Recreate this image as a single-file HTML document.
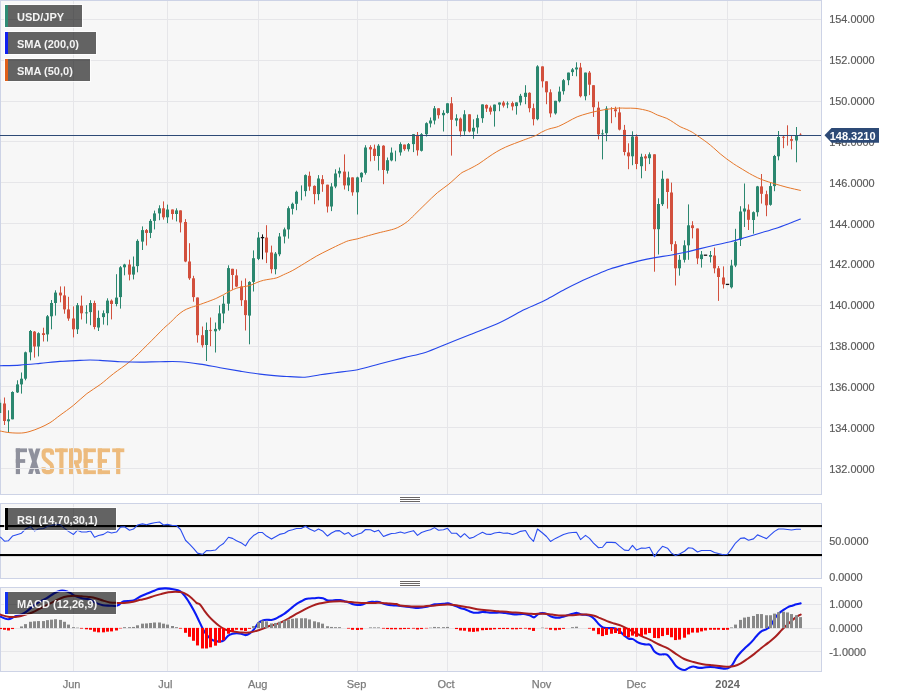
<!DOCTYPE html><html><head><meta charset="utf-8"><title>USD/JPY</title>
<style>html,body{margin:0;padding:0;background:#fff}svg{display:block;will-change:transform}text{font-family:"Liberation Sans",sans-serif}</style></head><body>
<svg width="898" height="697" viewBox="0 0 898 697">
<rect width="898" height="697" fill="#fff"/>
<rect x="0.5" y="0.5" width="821" height="494" fill="#f7f7f7" stroke="#cdd3e6" stroke-width="1"/>
<rect x="0.5" y="503.5" width="821" height="75" fill="#f7f7f7" stroke="#cdd3e6" stroke-width="1"/>
<rect x="0.5" y="587.5" width="821" height="84" fill="#f7f7f7" stroke="#cdd3e6" stroke-width="1"/>
<g id="logo"><g fill="#8f919d"><rect x="15.8" y="448.4" width="4.2" height="25.7"/><rect x="15.8" y="448.4" width="11.2" height="3.8"/><rect x="15.8" y="459.1" width="9.4" height="3.8"/><polygon points="28.1,448.4 32.5,448.4 40.4,474.1 36,474.1"/><polygon points="36,448.4 40.4,448.4 32.5,474.1 28.1,474.1"/></g><g fill="#edbb7d"><path d="M52.1 454.8 V453.4 Q52.1 450.4 49.1 450.4 H46.6 Q43.6 450.4 43.6 453.4 V455.8 Q43.6 457.8 45.1 459.1 L50.6 463.9 Q52.1 465.2 52.1 467.2 V469.1 Q52.1 472.1 49.1 472.1 H46.6 Q43.6 472.1 43.6 469.1 V467.2" fill="none" stroke="#edbb7d" stroke-width="4.1"/><rect x="55" y="448.4" width="12.8" height="3.8"/><rect x="59.3" y="448.4" width="4.2" height="25.7"/><rect x="69" y="448.4" width="4" height="25.7"/><path d="M71 450.3 H77 Q79.9 450.3 79.9 453.2 V459.2 Q79.9 462.1 77 462.1 H71" fill="none" stroke="#edbb7d" stroke-width="3.9"/><polygon points="74.3,463.5 78.6,463.5 81.9,474.1 77.6,474.1"/><rect x="83.6" y="448.4" width="4.2" height="25.7"/><rect x="83.6" y="448.4" width="12.3" height="3.8"/><rect x="83.6" y="459.1" width="9.4" height="3.8"/><rect x="83.6" y="470.3" width="12.3" height="3.8"/><rect x="97.8" y="448.4" width="4.2" height="25.7"/><rect x="97.8" y="448.4" width="12.2" height="3.8"/><rect x="97.8" y="459.1" width="9.2" height="3.8"/><rect x="97.8" y="470.3" width="12.2" height="3.8"/><rect x="112.2" y="448.4" width="12.1" height="3.8"/><rect x="116.1" y="448.4" width="4.2" height="25.7"/></g></g>

<g stroke="#e6e6e9" stroke-width="1" shape-rendering="crispEdges">
<line x1="1" x2="821" y1="19.5" y2="19.5"/>
<line x1="1" x2="821" y1="60.5" y2="60.5"/>
<line x1="1" x2="821" y1="101.5" y2="101.5"/>
<line x1="1" x2="821" y1="141.5" y2="141.5"/>
<line x1="1" x2="821" y1="182.5" y2="182.5"/>
<line x1="1" x2="821" y1="223.5" y2="223.5"/>
<line x1="1" x2="821" y1="264.5" y2="264.5"/>
<line x1="1" x2="821" y1="305.5" y2="305.5"/>
<line x1="1" x2="821" y1="346.5" y2="346.5"/>
<line x1="1" x2="821" y1="386.5" y2="386.5"/>
<line x1="1" x2="821" y1="427.5" y2="427.5"/>
<line x1="1" x2="821" y1="468.5" y2="468.5"/>
<line x1="1" x2="821" y1="541.5" y2="541.5"/>
<line x1="1" x2="821" y1="604.5" y2="604.5"/>
<line x1="1" x2="821" y1="628.5" y2="628.5"/>
<line x1="1" x2="821" y1="651.5" y2="651.5"/>
<line x1="73.5" x2="73.5" y1="1" y2="494"/>
<line x1="73.5" x2="73.5" y1="504" y2="578"/>
<line x1="73.5" x2="73.5" y1="588" y2="671"/>
<line x1="167.5" x2="167.5" y1="1" y2="494"/>
<line x1="167.5" x2="167.5" y1="504" y2="578"/>
<line x1="167.5" x2="167.5" y1="588" y2="671"/>
<line x1="258.5" x2="258.5" y1="1" y2="494"/>
<line x1="258.5" x2="258.5" y1="504" y2="578"/>
<line x1="258.5" x2="258.5" y1="588" y2="671"/>
<line x1="357.5" x2="357.5" y1="1" y2="494"/>
<line x1="357.5" x2="357.5" y1="504" y2="578"/>
<line x1="357.5" x2="357.5" y1="588" y2="671"/>
<line x1="447.5" x2="447.5" y1="1" y2="494"/>
<line x1="447.5" x2="447.5" y1="504" y2="578"/>
<line x1="447.5" x2="447.5" y1="588" y2="671"/>
<line x1="542.5" x2="542.5" y1="1" y2="494"/>
<line x1="542.5" x2="542.5" y1="504" y2="578"/>
<line x1="542.5" x2="542.5" y1="588" y2="671"/>
<line x1="636.5" x2="636.5" y1="1" y2="494"/>
<line x1="636.5" x2="636.5" y1="504" y2="578"/>
<line x1="636.5" x2="636.5" y1="588" y2="671"/>
<line x1="727.5" x2="727.5" y1="1" y2="494"/>
<line x1="727.5" x2="727.5" y1="504" y2="578"/>
<line x1="727.5" x2="727.5" y1="588" y2="671"/>
</g>
<g>
<rect x="-0.8" y="399.5" width="1" height="13.5" fill="#2b876f"/>
<rect x="-1.8" y="402.8" width="3" height="10.2" fill="#2b876f"/>
<rect x="4" y="397.5" width="1" height="27.5" fill="#d2503d"/>
<rect x="3" y="403.5" width="3" height="17.5" fill="#d2503d"/>
<rect x="8" y="410.3" width="1" height="21.7" fill="#2b876f"/>
<rect x="7" y="419.3" width="3" height="2" fill="#2b876f"/>
<rect x="12" y="391.3" width="1" height="28" fill="#2b876f"/>
<rect x="11" y="392" width="3" height="27.3" fill="#2b876f"/>
<rect x="17" y="380.3" width="1" height="12.7" fill="#2b876f"/>
<rect x="16" y="384.4" width="3" height="8" fill="#2b876f"/>
<rect x="21" y="372.5" width="1" height="21.1" fill="#2b876f"/>
<rect x="20" y="378.7" width="3" height="5.7" fill="#2b876f"/>
<rect x="25" y="351.6" width="1" height="28.7" fill="#2b876f"/>
<rect x="24" y="352.3" width="3" height="26.4" fill="#2b876f"/>
<rect x="30" y="330" width="1" height="30.3" fill="#2b876f"/>
<rect x="29" y="331" width="3" height="21.3" fill="#2b876f"/>
<rect x="34" y="331" width="1" height="26.6" fill="#d2503d"/>
<rect x="33" y="331.6" width="3" height="14.9" fill="#d2503d"/>
<rect x="38" y="332.3" width="1" height="24.1" fill="#2b876f"/>
<rect x="37" y="333.2" width="3" height="13.3" fill="#2b876f"/>
<rect x="43" y="327.7" width="1" height="13.8" fill="#d2503d"/>
<rect x="42" y="333.2" width="3" height="1.8" fill="#d2503d"/>
<rect x="47" y="315" width="1" height="26.5" fill="#2b876f"/>
<rect x="46" y="316.3" width="3" height="18.1" fill="#2b876f"/>
<rect x="51" y="300" width="1" height="29.3" fill="#2b876f"/>
<rect x="50" y="303" width="3" height="13.3" fill="#2b876f"/>
<rect x="55" y="290.3" width="1" height="25.3" fill="#2b876f"/>
<rect x="54" y="292.6" width="3" height="10.4" fill="#2b876f"/>
<rect x="60" y="286.4" width="1" height="15.9" fill="#d2503d"/>
<rect x="59" y="292.6" width="3" height="2.8" fill="#d2503d"/>
<rect x="64" y="286.4" width="1" height="27.3" fill="#d2503d"/>
<rect x="63" y="295.4" width="3" height="14" fill="#d2503d"/>
<rect x="68" y="296.8" width="1" height="24" fill="#d2503d"/>
<rect x="67" y="309.4" width="3" height="9.1" fill="#d2503d"/>
<rect x="73" y="306.4" width="1" height="31" fill="#d2503d"/>
<rect x="72" y="318.5" width="3" height="10.8" fill="#d2503d"/>
<rect x="77" y="303" width="1" height="31" fill="#2b876f"/>
<rect x="76" y="305.2" width="3" height="24.1" fill="#2b876f"/>
<rect x="81" y="295.6" width="1" height="23.9" fill="#d2503d"/>
<rect x="80" y="305.7" width="3" height="7.6" fill="#d2503d"/>
<rect x="86" y="305.2" width="1" height="18.4" fill="#2b876f"/>
<rect x="85" y="312.2" width="3" height="1.2" fill="#2b876f" opacity="0.75"/>
<rect x="90" y="300.2" width="1" height="25" fill="#2b876f"/>
<rect x="89" y="303" width="3" height="9.1" fill="#2b876f"/>
<rect x="94" y="300.7" width="1" height="28.6" fill="#d2503d"/>
<rect x="93" y="303" width="3" height="24" fill="#d2503d"/>
<rect x="98" y="310.5" width="1" height="20.5" fill="#2b876f"/>
<rect x="97" y="317.9" width="3" height="9.6" fill="#2b876f"/>
<rect x="103" y="310.4" width="1" height="14.2" fill="#2b876f"/>
<rect x="102" y="313.2" width="3" height="3.9" fill="#2b876f"/>
<rect x="107" y="298.3" width="1" height="27" fill="#2b876f"/>
<rect x="106" y="300.6" width="3" height="12.6" fill="#2b876f"/>
<rect x="111" y="299.4" width="1" height="20" fill="#d2503d"/>
<rect x="110" y="300.6" width="3" height="3.4" fill="#d2503d"/>
<rect x="116" y="274.2" width="1" height="32.1" fill="#2b876f"/>
<rect x="115" y="297.6" width="3" height="6.4" fill="#2b876f"/>
<rect x="120" y="266.1" width="1" height="42.5" fill="#2b876f"/>
<rect x="119" y="267.3" width="3" height="29.8" fill="#2b876f"/>
<rect x="124" y="263.8" width="1" height="11.5" fill="#2b876f"/>
<rect x="123" y="264.5" width="3" height="2.8" fill="#2b876f"/>
<rect x="129" y="259.7" width="1" height="20.7" fill="#d2503d"/>
<rect x="128" y="264.5" width="3" height="10.1" fill="#d2503d"/>
<rect x="133" y="256.5" width="1" height="22.9" fill="#2b876f"/>
<rect x="132" y="266.6" width="3" height="8" fill="#2b876f"/>
<rect x="137" y="239.3" width="1" height="33" fill="#2b876f"/>
<rect x="136" y="240.9" width="3" height="25.2" fill="#2b876f"/>
<rect x="142" y="226.4" width="1" height="23.6" fill="#2b876f"/>
<rect x="141" y="230.1" width="3" height="11.5" fill="#2b876f"/>
<rect x="146" y="229" width="1" height="16.5" fill="#d2503d"/>
<rect x="145" y="230.1" width="3" height="2.8" fill="#d2503d"/>
<rect x="150" y="219.1" width="1" height="19" fill="#2b876f"/>
<rect x="149" y="220.9" width="3" height="12" fill="#2b876f"/>
<rect x="154" y="210.6" width="1" height="18.8" fill="#2b876f"/>
<rect x="153" y="213.4" width="3" height="7.5" fill="#2b876f"/>
<rect x="159" y="205.3" width="1" height="14.9" fill="#2b876f"/>
<rect x="158" y="208.3" width="3" height="5.1" fill="#2b876f"/>
<rect x="163" y="201.4" width="1" height="18.2" fill="#d2503d"/>
<rect x="162" y="208.3" width="3" height="9" fill="#d2503d"/>
<rect x="167" y="204.6" width="1" height="18.6" fill="#2b876f"/>
<rect x="166" y="209.5" width="3" height="7.8" fill="#2b876f"/>
<rect x="172" y="209.5" width="1" height="10.1" fill="#d2503d"/>
<rect x="171" y="209.5" width="3" height="4.5" fill="#d2503d"/>
<rect x="176" y="208.3" width="1" height="13.1" fill="#2b876f"/>
<rect x="175" y="210.4" width="3" height="3.6" fill="#2b876f"/>
<rect x="180" y="210.4" width="1" height="22" fill="#d2503d"/>
<rect x="179" y="210.4" width="3" height="12.1" fill="#d2503d"/>
<rect x="185" y="219.1" width="1" height="43.1" fill="#d2503d"/>
<rect x="184" y="222" width="3" height="39.5" fill="#d2503d"/>
<rect x="189" y="243.2" width="1" height="36.7" fill="#d2503d"/>
<rect x="188" y="261.5" width="3" height="16.8" fill="#d2503d"/>
<rect x="193" y="275.8" width="1" height="25.9" fill="#d2503d"/>
<rect x="192" y="278.3" width="3" height="18.8" fill="#d2503d"/>
<rect x="197" y="297.5" width="1" height="45.1" fill="#d2503d"/>
<rect x="196" y="297.5" width="3" height="37.7" fill="#d2503d"/>
<rect x="202" y="326.5" width="1" height="21" fill="#d2503d"/>
<rect x="201" y="335.2" width="3" height="10" fill="#d2503d"/>
<rect x="206" y="322.5" width="1" height="38.5" fill="#2b876f"/>
<rect x="205" y="330" width="3" height="15" fill="#2b876f"/>
<rect x="210" y="317.5" width="1" height="28.7" fill="#d2503d"/>
<rect x="209" y="329.85" width="3" height="1.2" fill="#d2503d" opacity="0.75"/>
<rect x="215" y="322.5" width="1" height="30" fill="#2b876f"/>
<rect x="214" y="328.9" width="3" height="2.4" fill="#2b876f"/>
<rect x="219" y="305.3" width="1" height="25.4" fill="#2b876f"/>
<rect x="218" y="313.4" width="3" height="16" fill="#2b876f"/>
<rect x="223" y="295.6" width="1" height="27.6" fill="#2b876f"/>
<rect x="222" y="303.7" width="3" height="9.8" fill="#2b876f"/>
<rect x="228" y="265.3" width="1" height="45.3" fill="#2b876f"/>
<rect x="227" y="268.1" width="3" height="35.6" fill="#2b876f"/>
<rect x="232" y="268.8" width="1" height="21.1" fill="#d2503d"/>
<rect x="231" y="268.8" width="3" height="6.2" fill="#d2503d"/>
<rect x="236" y="269.3" width="1" height="17.8" fill="#d2503d"/>
<rect x="235" y="275.4" width="3" height="11.1" fill="#d2503d"/>
<rect x="241" y="280.7" width="1" height="25.3" fill="#d2503d"/>
<rect x="240" y="286.5" width="3" height="13.7" fill="#d2503d"/>
<rect x="245" y="278.4" width="1" height="52.1" fill="#d2503d"/>
<rect x="244" y="300.2" width="3" height="14.9" fill="#d2503d"/>
<rect x="249" y="281.2" width="1" height="63.1" fill="#2b876f"/>
<rect x="248" y="281.9" width="3" height="33.7" fill="#2b876f"/>
<rect x="253" y="250.4" width="1" height="41.1" fill="#2b876f"/>
<rect x="252" y="258.2" width="3" height="23.7" fill="#2b876f"/>
<rect x="258" y="232.1" width="1" height="28" fill="#2b876f"/>
<rect x="257" y="237.6" width="3" height="21.3" fill="#2b876f"/>
<rect x="262" y="234.4" width="1" height="25" fill="#111"/>
<rect x="260.8" y="236.95" width="3.4" height="1.3" fill="#111"/>
<rect x="266" y="225.2" width="1" height="37.9" fill="#d2503d"/>
<rect x="265" y="237.6" width="3" height="14.9" fill="#d2503d"/>
<rect x="271" y="245.6" width="1" height="27.8" fill="#d2503d"/>
<rect x="270" y="252.5" width="3" height="16.7" fill="#d2503d"/>
<rect x="275" y="252" width="1" height="22.3" fill="#2b876f"/>
<rect x="274" y="253.6" width="3" height="15.6" fill="#2b876f"/>
<rect x="279" y="233" width="1" height="23.2" fill="#2b876f"/>
<rect x="278" y="236.5" width="3" height="17.8" fill="#2b876f"/>
<rect x="284" y="227.6" width="1" height="15.8" fill="#2b876f"/>
<rect x="283" y="229.4" width="3" height="7.1" fill="#2b876f"/>
<rect x="288" y="206.3" width="1" height="32.3" fill="#2b876f"/>
<rect x="287" y="208.2" width="3" height="21.2" fill="#2b876f"/>
<rect x="292" y="202.6" width="1" height="11.9" fill="#2b876f"/>
<rect x="291" y="203.8" width="3" height="5" fill="#2b876f"/>
<rect x="296" y="190.7" width="1" height="19.5" fill="#2b876f"/>
<rect x="295" y="191.8" width="3" height="12" fill="#2b876f"/>
<rect x="301" y="185.4" width="1" height="14.9" fill="#2b876f"/>
<rect x="305" y="174.4" width="1" height="22" fill="#2b876f"/>
<rect x="304" y="175.1" width="3" height="16" fill="#2b876f"/>
<rect x="309" y="171.6" width="1" height="19.1" fill="#d2503d"/>
<rect x="308" y="175.8" width="3" height="10.7" fill="#d2503d"/>
<rect x="314" y="185.4" width="1" height="18.8" fill="#d2503d"/>
<rect x="313" y="185.9" width="3" height="8.2" fill="#d2503d"/>
<rect x="318" y="175.1" width="1" height="25.2" fill="#2b876f"/>
<rect x="317" y="178.5" width="3" height="15.6" fill="#2b876f"/>
<rect x="322" y="175.1" width="1" height="16.7" fill="#d2503d"/>
<rect x="321" y="179.2" width="3" height="5" fill="#d2503d"/>
<rect x="327" y="184.7" width="1" height="27.8" fill="#d2503d"/>
<rect x="326" y="184.7" width="3" height="21.8" fill="#d2503d"/>
<rect x="331" y="183.1" width="1" height="28" fill="#2b876f"/>
<rect x="330" y="186.5" width="3" height="20" fill="#2b876f"/>
<rect x="335" y="169.3" width="1" height="18.9" fill="#2b876f"/>
<rect x="334" y="173.5" width="3" height="13" fill="#2b876f"/>
<rect x="339" y="167.5" width="1" height="9.9" fill="#2b876f"/>
<rect x="338" y="170.9" width="3" height="2.6" fill="#2b876f"/>
<rect x="344" y="154.4" width="1" height="35.1" fill="#d2503d"/>
<rect x="343" y="171.6" width="3" height="13.8" fill="#d2503d"/>
<rect x="348" y="171.6" width="1" height="19.5" fill="#2b876f"/>
<rect x="347" y="177.4" width="3" height="8" fill="#2b876f"/>
<rect x="352" y="177.4" width="1" height="18.3" fill="#d2503d"/>
<rect x="351" y="177.4" width="3" height="14.9" fill="#d2503d"/>
<rect x="357" y="176.7" width="1" height="37.8" fill="#2b876f"/>
<rect x="356" y="177.4" width="3" height="14.9" fill="#2b876f"/>
<rect x="361" y="172.3" width="1" height="9.7" fill="#2b876f"/>
<rect x="360" y="172.8" width="3" height="4.6" fill="#2b876f"/>
<rect x="365" y="145.2" width="1" height="29.4" fill="#2b876f"/>
<rect x="364" y="147.5" width="3" height="25.3" fill="#2b876f"/>
<rect x="370" y="145.2" width="1" height="16.1" fill="#d2503d"/>
<rect x="369" y="147.1" width="3" height="2.3" fill="#d2503d"/>
<rect x="374" y="144.6" width="1" height="16.2" fill="#d2503d"/>
<rect x="373" y="148.7" width="3" height="7.3" fill="#d2503d"/>
<rect x="378" y="144.1" width="1" height="26.4" fill="#2b876f"/>
<rect x="377" y="145.7" width="3" height="10.3" fill="#2b876f"/>
<rect x="383" y="145.2" width="1" height="39" fill="#d2503d"/>
<rect x="382" y="145.7" width="3" height="24.3" fill="#d2503d"/>
<rect x="387" y="157.5" width="1" height="16.1" fill="#2b876f"/>
<rect x="386" y="160.2" width="3" height="10.5" fill="#2b876f"/>
<rect x="391" y="147.5" width="1" height="13.8" fill="#2b876f"/>
<rect x="390" y="152.6" width="3" height="7.8" fill="#2b876f"/>
<rect x="395" y="150.6" width="1" height="10.7" fill="#2b876f"/>
<rect x="400" y="142.3" width="1" height="13.3" fill="#2b876f"/>
<rect x="399" y="144.1" width="3" height="8.3" fill="#2b876f"/>
<rect x="404" y="144.6" width="1" height="6.2" fill="#d2503d"/>
<rect x="403" y="144.6" width="3" height="4.6" fill="#d2503d"/>
<rect x="408" y="143" width="1" height="8.5" fill="#2b876f"/>
<rect x="407" y="144.1" width="3" height="5.1" fill="#2b876f"/>
<rect x="413" y="134.2" width="1" height="17.9" fill="#2b876f"/>
<rect x="412" y="134.2" width="3" height="9.9" fill="#2b876f"/>
<rect x="417" y="132" width="1" height="23.6" fill="#d2503d"/>
<rect x="416" y="134.9" width="3" height="15.4" fill="#d2503d"/>
<rect x="421" y="133.1" width="1" height="18.4" fill="#2b876f"/>
<rect x="420" y="134.2" width="3" height="16.6" fill="#2b876f"/>
<rect x="426" y="122.3" width="1" height="14.2" fill="#2b876f"/>
<rect x="425" y="123.2" width="3" height="11" fill="#2b876f"/>
<rect x="430" y="117.5" width="1" height="9.9" fill="#2b876f"/>
<rect x="429" y="120.5" width="3" height="3" fill="#2b876f"/>
<rect x="434" y="106" width="1" height="18.4" fill="#2b876f"/>
<rect x="433" y="108.3" width="3" height="12.2" fill="#2b876f"/>
<rect x="438" y="108.3" width="1" height="10.3" fill="#d2503d"/>
<rect x="437" y="108.3" width="3" height="6.9" fill="#d2503d"/>
<rect x="443" y="110.2" width="1" height="21.3" fill="#2b876f"/>
<rect x="442" y="112.9" width="3" height="2.3" fill="#2b876f"/>
<rect x="447" y="103.3" width="1" height="10.3" fill="#2b876f"/>
<rect x="446" y="103.3" width="3" height="9.6" fill="#2b876f"/>
<rect x="451" y="97.1" width="1" height="58.5" fill="#d2503d"/>
<rect x="450" y="103.3" width="3" height="16.5" fill="#d2503d"/>
<rect x="456" y="114.3" width="1" height="11.9" fill="#2b876f"/>
<rect x="455" y="118.2" width="3" height="2.3" fill="#2b876f"/>
<rect x="460" y="117.5" width="1" height="19" fill="#d2503d"/>
<rect x="459" y="118.6" width="3" height="12.7" fill="#d2503d"/>
<rect x="464" y="110.2" width="1" height="24.7" fill="#2b876f"/>
<rect x="463" y="114.3" width="3" height="17" fill="#2b876f"/>
<rect x="469" y="114.3" width="1" height="18.1" fill="#d2503d"/>
<rect x="468" y="114.3" width="3" height="17.2" fill="#d2503d"/>
<rect x="473" y="119.3" width="1" height="19.5" fill="#2b876f"/>
<rect x="472" y="127.8" width="3" height="3.7" fill="#2b876f"/>
<rect x="477" y="114.7" width="1" height="18.9" fill="#2b876f"/>
<rect x="476" y="118.2" width="3" height="9.2" fill="#2b876f"/>
<rect x="482" y="104.4" width="1" height="18.4" fill="#2b876f"/>
<rect x="481" y="104.4" width="3" height="13.8" fill="#2b876f"/>
<rect x="486" y="104.4" width="1" height="7.6" fill="#d2503d"/>
<rect x="485" y="104.9" width="3" height="3.6" fill="#d2503d"/>
<rect x="490" y="105.6" width="1" height="9" fill="#d2503d"/>
<rect x="489" y="107.5" width="3" height="4.2" fill="#d2503d"/>
<rect x="494" y="104.6" width="1" height="22" fill="#2b876f"/>
<rect x="493" y="104.6" width="3" height="6.6" fill="#2b876f"/>
<rect x="499" y="102.5" width="1" height="8.7" fill="#2b876f"/>
<rect x="498" y="102.5" width="3" height="2.1" fill="#2b876f"/>
<rect x="503" y="100.9" width="1" height="6.6" fill="#d2503d"/>
<rect x="502" y="102.5" width="3" height="3.1" fill="#d2503d"/>
<rect x="507" y="101.5" width="1" height="6.7" fill="#2b876f"/>
<rect x="506" y="103.3" width="3" height="1.2" fill="#2b876f" opacity="0.75"/>
<rect x="512" y="101.5" width="1" height="8.9" fill="#d2503d"/>
<rect x="511" y="103.1" width="3" height="3.4" fill="#d2503d"/>
<rect x="516" y="102.4" width="1" height="12.2" fill="#2b876f"/>
<rect x="515" y="102.4" width="3" height="3.7" fill="#2b876f"/>
<rect x="520" y="93.9" width="1" height="11.5" fill="#2b876f"/>
<rect x="519" y="95.8" width="3" height="6.6" fill="#2b876f"/>
<rect x="525" y="85.2" width="1" height="19" fill="#2b876f"/>
<rect x="524" y="92.8" width="3" height="4.1" fill="#2b876f"/>
<rect x="529" y="92.3" width="1" height="20" fill="#d2503d"/>
<rect x="528" y="92.8" width="3" height="15.4" fill="#d2503d"/>
<rect x="533" y="103.6" width="1" height="21.8" fill="#d2503d"/>
<rect x="532" y="108.2" width="3" height="11" fill="#d2503d"/>
<rect x="537" y="65.2" width="1" height="55.1" fill="#2b876f"/>
<rect x="536" y="66.4" width="3" height="52.8" fill="#2b876f"/>
<rect x="542" y="66.4" width="1" height="21.1" fill="#d2503d"/>
<rect x="541" y="66.4" width="3" height="14.9" fill="#d2503d"/>
<rect x="546" y="81.3" width="1" height="22.9" fill="#d2503d"/>
<rect x="545" y="81.3" width="3" height="11" fill="#d2503d"/>
<rect x="550" y="89.3" width="1" height="28" fill="#d2503d"/>
<rect x="549" y="92.3" width="3" height="21.1" fill="#d2503d"/>
<rect x="555" y="100.8" width="1" height="13.8" fill="#2b876f"/>
<rect x="554" y="100.8" width="3" height="12.6" fill="#2b876f"/>
<rect x="559" y="86.6" width="1" height="15.8" fill="#2b876f"/>
<rect x="558" y="91.6" width="3" height="9.7" fill="#2b876f"/>
<rect x="563" y="79" width="1" height="15.6" fill="#2b876f"/>
<rect x="562" y="80.2" width="3" height="11" fill="#2b876f"/>
<rect x="568" y="72.6" width="1" height="12.6" fill="#2b876f"/>
<rect x="567" y="72.6" width="3" height="7.6" fill="#2b876f"/>
<rect x="572" y="68" width="1" height="8" fill="#2b876f"/>
<rect x="571" y="69.4" width="3" height="2.7" fill="#2b876f"/>
<rect x="576" y="62.3" width="1" height="14" fill="#2b876f"/>
<rect x="575" y="67.5" width="3" height="1.9" fill="#2b876f"/>
<rect x="580" y="62.9" width="1" height="34.5" fill="#d2503d"/>
<rect x="579" y="67.5" width="3" height="28.7" fill="#d2503d"/>
<rect x="585" y="72.6" width="1" height="27.7" fill="#2b876f"/>
<rect x="584" y="72.6" width="3" height="23.6" fill="#2b876f"/>
<rect x="589" y="71" width="1" height="24.1" fill="#d2503d"/>
<rect x="588" y="72.6" width="3" height="12.1" fill="#d2503d"/>
<rect x="593" y="85.2" width="1" height="31.7" fill="#d2503d"/>
<rect x="592" y="85.2" width="3" height="22" fill="#d2503d"/>
<rect x="598" y="101.6" width="1" height="37.8" fill="#d2503d"/>
<rect x="597" y="107.7" width="3" height="26.6" fill="#d2503d"/>
<rect x="602" y="129.6" width="1" height="29.8" fill="#2b876f"/>
<rect x="601" y="133.2" width="3" height="1.2" fill="#2b876f" opacity="0.75"/>
<rect x="606" y="106.2" width="1" height="35" fill="#2b876f"/>
<rect x="605" y="108.5" width="3" height="24.7" fill="#2b876f"/>
<rect x="611" y="107.2" width="1" height="16" fill="#d2503d"/>
<rect x="615" y="106.7" width="1" height="10.5" fill="#d2503d"/>
<rect x="614" y="109.3" width="3" height="1.9" fill="#d2503d"/>
<rect x="619" y="107.2" width="1" height="23.2" fill="#d2503d"/>
<rect x="618" y="112.4" width="3" height="17.2" fill="#d2503d"/>
<rect x="624" y="124.9" width="1" height="30.5" fill="#d2503d"/>
<rect x="623" y="129.9" width="3" height="22.1" fill="#d2503d"/>
<rect x="628" y="143.3" width="1" height="25.9" fill="#d2503d"/>
<rect x="627" y="152.5" width="3" height="3.8" fill="#d2503d"/>
<rect x="632" y="131.3" width="1" height="33.9" fill="#2b876f"/>
<rect x="631" y="136.5" width="3" height="19.8" fill="#2b876f"/>
<rect x="636" y="134.4" width="1" height="34.8" fill="#d2503d"/>
<rect x="635" y="136.5" width="3" height="27.5" fill="#d2503d"/>
<rect x="641" y="153.7" width="1" height="24.6" fill="#2b876f"/>
<rect x="640" y="156.8" width="3" height="9.4" fill="#2b876f"/>
<rect x="645" y="154.2" width="1" height="16.7" fill="#d2503d"/>
<rect x="644" y="156.3" width="3" height="2.1" fill="#d2503d"/>
<rect x="649" y="152.4" width="1" height="11.7" fill="#2b876f"/>
<rect x="648" y="154.3" width="3" height="3.9" fill="#2b876f"/>
<rect x="654" y="154.3" width="1" height="117.4" fill="#d2503d"/>
<rect x="653" y="154.3" width="3" height="74.9" fill="#d2503d"/>
<rect x="658" y="198.3" width="1" height="56.2" fill="#2b876f"/>
<rect x="657" y="204" width="3" height="25.2" fill="#2b876f"/>
<rect x="662" y="170.6" width="1" height="35.4" fill="#2b876f"/>
<rect x="661" y="178.8" width="3" height="25.4" fill="#2b876f"/>
<rect x="667" y="178.7" width="1" height="29.9" fill="#d2503d"/>
<rect x="666" y="178.7" width="3" height="13.3" fill="#d2503d"/>
<rect x="671" y="182.6" width="1" height="68.4" fill="#d2503d"/>
<rect x="670" y="192.5" width="3" height="51.7" fill="#d2503d"/>
<rect x="675" y="241.2" width="1" height="44.3" fill="#d2503d"/>
<rect x="674" y="244.2" width="3" height="24.1" fill="#d2503d"/>
<rect x="679" y="255" width="1" height="20.6" fill="#2b876f"/>
<rect x="678" y="259.8" width="3" height="8.5" fill="#2b876f"/>
<rect x="684" y="240.3" width="1" height="22.2" fill="#2b876f"/>
<rect x="683" y="245.3" width="3" height="14.5" fill="#2b876f"/>
<rect x="688" y="204.4" width="1" height="55.4" fill="#2b876f"/>
<rect x="687" y="225.3" width="3" height="20" fill="#2b876f"/>
<rect x="692" y="221.2" width="1" height="17.2" fill="#d2503d"/>
<rect x="691" y="225.3" width="3" height="2.8" fill="#d2503d"/>
<rect x="697" y="228.5" width="1" height="35.6" fill="#d2503d"/>
<rect x="696" y="228.5" width="3" height="29.9" fill="#d2503d"/>
<rect x="701" y="251" width="1" height="16.6" fill="#2b876f"/>
<rect x="700" y="254.5" width="3" height="4.6" fill="#2b876f"/>
<rect x="703.8" y="254.55" width="3.4" height="1.3" fill="#111"/>
<rect x="710" y="251" width="1" height="11.5" fill="#2b876f"/>
<rect x="709" y="255" width="3" height="1.8" fill="#2b876f"/>
<rect x="714" y="247.6" width="1" height="25.7" fill="#d2503d"/>
<rect x="713" y="255.6" width="3" height="12.7" fill="#d2503d"/>
<rect x="718" y="266" width="1" height="34.9" fill="#d2503d"/>
<rect x="717" y="268.3" width="3" height="8.7" fill="#d2503d"/>
<rect x="723" y="266.4" width="1" height="22.1" fill="#d2503d"/>
<rect x="722" y="277.5" width="3" height="6.9" fill="#d2503d"/>
<rect x="725.8" y="283.75" width="3.4" height="1.3" fill="#111"/>
<rect x="731" y="259.8" width="1" height="28.7" fill="#2b876f"/>
<rect x="730" y="265.5" width="3" height="21.8" fill="#2b876f"/>
<rect x="735" y="228.8" width="1" height="38.3" fill="#2b876f"/>
<rect x="734" y="241.9" width="3" height="23.6" fill="#2b876f"/>
<rect x="740" y="206.2" width="1" height="39.8" fill="#2b876f"/>
<rect x="739" y="211.5" width="3" height="28.1" fill="#2b876f"/>
<rect x="744" y="183.5" width="1" height="43.5" fill="#2b876f"/>
<rect x="743" y="208.5" width="3" height="3" fill="#2b876f"/>
<rect x="748" y="204.4" width="1" height="25.6" fill="#d2503d"/>
<rect x="747" y="209.7" width="3" height="10.1" fill="#d2503d"/>
<rect x="753" y="211.4" width="1" height="22.3" fill="#2b876f"/>
<rect x="752" y="212.2" width="3" height="7.8" fill="#2b876f"/>
<rect x="757" y="185.9" width="1" height="30.6" fill="#2b876f"/>
<rect x="756" y="186.4" width="3" height="25.8" fill="#2b876f"/>
<rect x="761" y="174" width="1" height="29.6" fill="#d2503d"/>
<rect x="760" y="186.4" width="3" height="7.4" fill="#d2503d"/>
<rect x="766" y="190.7" width="1" height="25.5" fill="#d2503d"/>
<rect x="765" y="194.2" width="3" height="11.1" fill="#d2503d"/>
<rect x="770" y="183" width="1" height="22.7" fill="#2b876f"/>
<rect x="769" y="186.1" width="3" height="18.7" fill="#2b876f"/>
<rect x="774" y="154.9" width="1" height="36.3" fill="#2b876f"/>
<rect x="773" y="156" width="3" height="30.1" fill="#2b876f"/>
<rect x="778" y="131" width="1" height="29.3" fill="#2b876f"/>
<rect x="777" y="137" width="3" height="19.3" fill="#2b876f"/>
<rect x="783" y="135.3" width="1" height="12.9" fill="#d2503d"/>
<rect x="782" y="136.75" width="3" height="1.2" fill="#d2503d" opacity="0.75"/>
<rect x="787" y="125.3" width="1" height="20.3" fill="#d2503d"/>
<rect x="791" y="135.3" width="1" height="14.1" fill="#d2503d"/>
<rect x="790" y="139.1" width="3" height="1.7" fill="#d2503d"/>
<rect x="796" y="127" width="1" height="35.3" fill="#2b876f"/>
<rect x="795" y="135.3" width="3" height="5.2" fill="#2b876f"/>
<rect x="800" y="133.6" width="1" height="1.7" fill="#d2503d"/>
<polygon points="798.8,135.4 802.2,135.4 800.5,132.8" fill="#d2503d" opacity="0.65"/>
</g>
<line x1="0" x2="821" y1="135.5" y2="135.5" stroke="#2d4a76" stroke-width="1.05"/>
<path fill="none" stroke="#e6772a" stroke-width="1.0" stroke-linejoin="round" stroke-linecap="round" d="M0 431C1.67 431.28 6.38 432.37 10 432.7C13.62 433.03 18.37 433.22 21.7 433C25.03 432.78 26.95 432.28 30 431.4C33.05 430.52 36.67 429.15 40 427.7C43.33 426.25 46.67 424.77 50 422.7C53.33 420.63 56.08 418.2 60 415.3C63.92 412.4 69.02 408.92 73.5 405.3C77.98 401.68 82.45 397.05 86.9 393.6C91.35 390.15 95.75 387.93 100.2 384.6C104.65 381.27 108.58 377.5 113.6 373.6C118.62 369.7 124.73 365.93 130.3 361.2C135.87 356.47 141.43 350.67 147 345.2C152.57 339.73 159.87 332.13 163.7 328.4C167.53 324.67 167.83 324.85 170 322.8C172.17 320.75 174.47 318.1 176.7 316.1C178.93 314.1 181.18 312.18 183.4 310.8C185.62 309.42 187.67 308.7 190 307.8C192.33 306.9 194.05 306.57 197.4 305.4C200.75 304.23 206.87 302.02 210.1 300.8C213.33 299.58 214.57 299.12 216.8 298.1C219.03 297.08 221.28 295.88 223.5 294.7C225.72 293.52 227.88 292.1 230.1 291C232.32 289.9 234.57 288.82 236.8 288.1C239.03 287.38 241.27 287.15 243.5 286.7C245.73 286.25 247.97 286.1 250.2 285.4C252.43 284.7 254.68 283.35 256.9 282.5C259.12 281.65 261.28 280.87 263.5 280.3C265.72 279.73 267.97 279.52 270.2 279.1C272.43 278.68 274.67 278.53 276.9 277.8C279.13 277.07 281.05 275.88 283.6 274.7C286.15 273.52 288.72 272.58 292.2 270.7C295.68 268.82 300.42 265.85 304.5 263.4C308.58 260.95 312.62 258.28 316.7 256C320.78 253.72 324.92 251.73 329 249.7C333.08 247.67 337.93 245.3 341.2 243.8C344.47 242.3 345.93 241.52 348.6 240.7C351.27 239.88 354.35 239.62 357.2 238.9C360.05 238.18 362.23 237.38 365.7 236.4C369.17 235.42 374.28 233.97 378 233C381.72 232.03 385.18 231.32 388 230.6C390.82 229.88 392.78 229.47 394.9 228.7C397.02 227.93 398.58 227.22 400.7 226C402.82 224.78 405.32 223.25 407.6 221.4C409.88 219.55 411.35 217.87 414.4 214.9C417.45 211.93 422.07 207.3 425.9 203.6C429.73 199.9 433.57 195.95 437.4 192.7C441.23 189.45 445.07 187.25 448.9 184.1C452.73 180.95 457.72 175.97 460.4 173.8C463.08 171.63 463.4 171.96 465 171.1C466.6 170.24 467.68 169.88 470 168.65C472.32 167.43 475.93 165.61 478.9 163.75C481.87 161.89 484.83 159.51 487.8 157.5C490.77 155.49 493.73 153.43 496.7 151.7C499.67 149.97 502.63 148.47 505.6 147.1C508.57 145.73 511.52 144.67 514.5 143.5C517.48 142.33 520.52 141.21 523.5 140.1C526.48 138.99 530.18 137.7 532.4 136.85C534.62 136 535.32 135.76 536.8 135C538.28 134.24 539.82 133.1 541.3 132.3C542.78 131.5 544.25 130.8 545.7 130.2C547.15 129.6 547.87 129.33 550 128.7C552.13 128.07 555.53 127.57 558.5 126.4C561.47 125.23 564.68 123.3 567.8 121.7C570.92 120.1 573.85 118.18 577.2 116.8C580.55 115.42 584.35 114.4 587.9 113.4C591.45 112.4 594.95 111.53 598.5 110.8C602.05 110.07 605.85 109.45 609.2 109C612.55 108.55 615.8 108.23 618.6 108.1C621.4 107.97 623.1 108.15 626 108.2C628.9 108.25 632.22 107.93 636 108.4C639.78 108.87 645.13 109.9 648.7 111C652.27 112.1 654.38 113.77 657.4 115C660.42 116.23 664.12 117.17 666.8 118.4C669.48 119.63 671.28 121.02 673.5 122.4C675.72 123.78 677.88 125.52 680.1 126.7C682.32 127.88 684.78 128.58 686.8 129.5C688.82 130.42 690.42 131.15 692.2 132.2C693.98 133.25 695.05 134.1 697.5 135.8C699.95 137.5 704.23 140.4 706.9 142.4C709.57 144.4 711.28 145.9 713.5 147.8C715.72 149.7 717.97 151.92 720.2 153.8C722.43 155.68 724.67 157.43 726.9 159.1C729.13 160.77 731.42 162.35 733.6 163.8C735.78 165.25 736.85 165.9 740 167.8C743.15 169.7 748.68 173.17 752.5 175.2C756.32 177.23 759.17 178.57 762.9 180C766.63 181.43 770.88 182.58 774.9 183.8C778.92 185.02 782.75 186.2 787 187.3C791.25 188.4 798.17 189.88 800.4 190.4"/>
<path fill="none" stroke="#2546ea" stroke-width="1.1" stroke-linejoin="round" stroke-linecap="round" d="M0 365.7C3.33 365.6 13.33 365.48 20 365.1C26.67 364.72 33.33 364.02 40 363.4C46.67 362.78 53.33 361.9 60 361.4C66.67 360.9 75 360.63 80 360.4C85 360.17 86.67 360 90 360C93.33 360 95 360.12 100 360.4C105 360.68 113.33 361.42 120 361.7C126.67 361.98 133.33 362.1 140 362.1C146.67 362.1 153.33 361.77 160 361.7C166.67 361.63 173.33 361.3 180 361.7C186.67 362.1 193.33 363.1 200 364.1C206.67 365.1 213.33 366.53 220 367.7C226.67 368.87 233.33 370.03 240 371.1C246.67 372.17 253.33 373.27 260 374.1C266.67 374.93 275 375.68 280 376.1C285 376.52 285.83 376.42 290 376.6C294.17 376.78 299.98 377.5 305 377.2C310.02 376.9 315.08 375.55 320.1 374.8C325.12 374.05 328.85 373.55 335.1 372.7C341.35 371.85 350.08 371.2 357.6 369.7C365.12 368.2 372.42 365.72 380.2 363.7C387.98 361.68 396.78 359.47 404.3 357.6C411.82 355.73 418.03 354.85 425.3 352.5C432.57 350.15 440.38 346.5 447.9 343.5C455.42 340.5 461.63 338.05 470.4 334.5C479.17 330.95 491.48 326.37 500.5 322.2C509.52 318.03 517.48 312.97 524.5 309.5C531.52 306.03 538.35 303.38 542.6 301.4C546.85 299.42 546.27 299.63 550 297.6C553.73 295.57 559.98 291.85 565 289.2C570.02 286.55 575.08 284.05 580.1 281.7C585.12 279.35 590.1 277.22 595.1 275.1C600.1 272.98 605.08 270.77 610.1 269C615.12 267.23 620.18 265.9 625.2 264.5C630.22 263.1 635.2 261.75 640.2 260.6C645.2 259.45 650.18 258.5 655.2 257.6C660.22 256.7 665.28 256.1 670.3 255.2C675.32 254.3 680.3 253.3 685.3 252.2C690.3 251.1 695.28 249.8 700.3 248.6C705.32 247.4 710.38 246.15 715.4 245C720.42 243.85 725.4 242.95 730.4 241.7C735.4 240.45 740.38 238.95 745.4 237.5C750.42 236.05 755.48 234.5 760.5 233C765.52 231.5 770.5 230.17 775.5 228.5C780.5 226.83 786.35 224.57 790.5 223C794.65 221.43 798.75 219.75 800.4 219.1"/>
<rect x="0" y="525" width="822" height="2.1" fill="#000"/>
<rect x="0" y="554" width="822" height="2.1" fill="#000"/>
<polyline fill="none" stroke="#2a4df0" stroke-width="1.1" stroke-linejoin="round" stroke-linecap="round"  points="0.5,537.22 4.5,541.19 8.5,540.72 12.5,536.05 17.5,534.41 21.5,533.24 25.5,529.03 30.5,526.69 34.5,530.9 38.5,529.03 43.5,528.56 47.5,526.23 51.5,525.52 55.5,524.35 60.5,524.82 64.5,528.33 68.5,531.37 73.5,534.41 77.5,530.2 81.5,532.07 86.5,532.07 90.5,530.9 94.5,537.22 98.5,535.58 103.5,534.41 107.5,531.84 111.5,533.01 116.5,532.07 120.5,527.16 124.5,526.69 129.5,530.2 133.5,529.03 137.5,525.06 142.5,523.89 146.5,524.82 150.5,523.65 154.5,522.72 159.5,522.02 163.5,525.06 167.5,524.35 172.5,525.52 176.5,525.52 180.5,529.5 185.5,540.26 189.5,544.23 193.5,548.44 197.5,553.12 202.5,554.29 206.5,550.55 210.5,550.78 215.5,550.08 219.5,546.1 223.5,543.53 228.5,537.22 232.5,538.39 236.5,540.72 241.5,543.06 245.5,545.87 249.5,539.56 253.5,535.58 258.5,532.54 262.5,532.54 266.5,536.05 271.5,539.09 275.5,536.75 279.5,534.41 284.5,533.24 288.5,530.67 292.5,529.73 296.5,528.56 301.5,528.33 305.5,526.23 309.5,529.03 314.5,531.37 318.5,529.03 322.5,530.9 327.5,536.05 331.5,533.01 335.5,530.9 339.5,530.67 344.5,534.18 348.5,532.54 352.5,536.52 357.5,534.18 361.5,533.01 365.5,529.5 370.5,529.73 374.5,531.84 378.5,530.2 383.5,536.52 387.5,534.88 391.5,533.48 395.5,533.24 400.5,532.07 404.5,533.24 408.5,532.07 413.5,530.67 417.5,535.35 421.5,532.54 426.5,530.67 430.5,529.73 434.5,527.63 438.5,530.2 443.5,529.73 447.5,528.33 451.5,533.24 456.5,533.24 460.5,537.22 464.5,533.71 469.5,538.39 473.5,537.22 477.5,534.88 482.5,532.31 486.5,534.18 490.5,534.41 494.5,533.01 499.5,532.31 503.5,533.24 507.5,533.01 512.5,534.41 516.5,533.24 520.5,531.37 525.5,530.43 529.5,537.22 533.5,541.43 537.5,529.03 542.5,533.01 546.5,536.52 550.5,541.43 555.5,538.39 559.5,536.52 563.5,534.41 568.5,533.01 572.5,532.54 576.5,532.31 580.5,539.56 585.5,535.35 589.5,538.39 593.5,543.06 598.5,547.74 602.5,547.27 606.5,542.36 611.5,542.36 615.5,542.6 619.5,546.1 624.5,550.08 628.5,550.55 632.5,545.4 636.5,550.08 641.5,547.97 645.5,548.21 649.5,547.27 654.5,556.63 658.5,550.78 662.5,546.34 667.5,548.21 671.5,553.12 675.5,555.46 679.5,554.06 684.5,551.25 688.5,547.74 692.5,548.21 697.5,551.95 701.5,550.55 705.5,550.55 710.5,550.55 714.5,552.42 718.5,553.59 723.5,554.76 727.5,554.29 731.5,548.91 735.5,543.06 740.5,538.39 744.5,537.92 748.5,540.26 753.5,538.85 757.5,534.88 761.5,536.52 766.5,538.62 770.5,534.88 774.5,531.37 778.5,529.03 783.5,529.03 787.5,529.5 791.5,529.97 796.5,529.27 800.5,529.27"/>
<path fill="none" stroke="#0a1af5" stroke-width="2.1" stroke-linejoin="round" stroke-linecap="round" d="M0 616.44C1.36 616.91 5.85 619.17 8.19 619.25C10.52 619.33 11.89 617.69 14.03 616.91C16.18 616.13 19.1 615.35 21.05 614.57C23 613.79 23.78 613.6 25.72 612.23C27.67 610.87 30.4 608.14 32.74 606.39C35.08 604.63 37.42 603.07 39.76 601.71C42.1 600.34 44.43 599.57 46.77 598.2C49.11 596.84 51.53 594.77 53.79 593.52C56.05 592.28 58.58 591.19 60.34 590.72C62.09 590.25 62.68 590.37 64.31 590.72C65.95 591.07 68.41 591.96 70.16 592.82C71.91 593.68 72.89 594.97 74.84 595.86C76.79 596.76 79.51 597.62 81.85 598.2C84.19 598.79 86.53 598.59 88.87 599.37C91.21 600.15 93.55 601.9 95.88 602.88C98.22 603.85 100.56 604.75 102.9 605.22C105.24 605.68 107.77 605.57 109.92 605.68C112.06 605.8 114.2 606.11 115.76 605.92C117.32 605.72 117.91 605.29 119.27 604.52C120.63 603.74 121.61 601.9 123.95 601.24C126.29 600.58 130.57 601.32 133.3 600.54C136.03 599.76 137.98 597.73 140.32 596.56C142.66 595.39 145 594.5 147.33 593.52C149.67 592.55 152.4 591.5 154.35 590.72C156.3 589.94 157.08 589.24 159.03 588.85C160.98 588.46 163.7 588.3 166.04 588.38C168.38 588.46 170.72 588.85 173.06 589.31C175.4 589.78 178.13 590.09 180.07 591.19C182.02 592.28 183.19 593.91 184.75 595.86C186.31 597.81 187.87 600.34 189.43 602.88C190.99 605.41 192.55 608.14 194.11 611.06C195.67 613.99 197.41 617.61 198.78 620.42C200.16 623.22 201.01 625.49 202.34 627.9C203.67 630.32 205.34 633.05 206.78 634.92C208.22 636.79 209.59 638.11 210.99 639.13C212.39 640.14 213.76 640.61 215.2 641C216.64 641.39 218.2 641.58 219.64 641.47C221.09 641.35 222.41 641.27 223.85 640.3C225.3 639.32 226.86 636.71 228.3 635.62C229.74 634.53 231.1 634.14 232.51 633.75C233.91 633.36 235.27 633.28 236.72 633.28C238.16 633.28 239.72 633.44 241.16 633.75C242.6 634.06 243.93 635.23 245.37 635.15C246.81 635.07 248.37 634.26 249.81 633.28C251.26 632.31 252.62 630.98 254.02 629.3C255.43 627.63 256.79 624.71 258.23 623.22C259.67 621.74 261.23 621 262.68 620.42C264.12 619.83 265.44 619.79 266.88 619.72C268.33 619.64 269.89 620.11 271.33 619.95C272.77 619.79 274.13 619.37 275.54 618.78C276.94 618.2 278.31 617.26 279.75 616.44C281.19 615.62 282.75 614.84 284.19 613.87C285.63 612.9 286.96 611.77 288.4 610.6C289.84 609.43 291.4 608.02 292.84 606.85C294.29 605.68 295.61 604.52 297.05 603.58C298.5 602.64 300.05 602.02 301.5 601.24C302.94 600.46 304.3 599.37 305.71 598.9C307.11 598.43 308.47 598.55 309.92 598.43C311.36 598.32 312.92 598.32 314.36 598.2C315.8 598.08 317.13 597.73 318.57 597.73C320.01 597.73 321.57 597.77 323.01 598.2C324.45 598.63 325.82 599.92 327.22 600.31C328.62 600.7 329.99 600.58 331.43 600.54C332.87 600.5 334.43 600.15 335.87 600.07C337.32 599.99 338.64 599.88 340.08 600.07C341.53 600.27 343.09 600.85 344.53 601.24C345.97 601.63 347.29 601.9 348.74 602.41C350.18 602.92 351.74 603.85 353.18 604.28C354.62 604.71 355.99 604.91 357.39 604.98C358.79 605.06 360.16 605.06 361.6 604.75C363.04 604.44 364.6 603.58 366.04 603.11C367.49 602.64 368.85 602.14 370.25 601.94C371.66 601.75 373.02 601.94 374.46 601.94C375.9 601.94 377.46 601.67 378.91 601.94C380.35 602.22 381.67 603.11 383.12 603.58C384.56 604.05 386.12 604.48 387.56 604.75C389 605.02 390.36 605.1 391.77 605.22C393.17 605.33 394.53 605.33 395.98 605.45C397.43 605.57 398.24 605.68 400.47 605.92C402.7 606.15 406.47 606.5 409.35 606.85C412.24 607.2 415.43 607.95 417.77 608.02C420.11 608.1 421.24 607.71 423.39 607.32C425.53 606.93 428.73 606.19 430.64 605.68C432.55 605.18 432.7 604.59 434.85 604.28C436.99 603.97 441.32 603.97 443.5 603.81C445.68 603.66 446.5 603.19 447.94 603.35C449.38 603.5 450.75 604.24 452.15 604.75C453.55 605.26 454.92 605.8 456.36 606.39C457.8 606.97 459.36 607.79 460.8 608.26C462.25 608.72 463.57 608.69 465.01 609.19C466.46 609.7 468.02 610.71 469.46 611.3C470.9 611.88 472.26 612.47 473.67 612.7C475.07 612.93 476.43 612.82 477.88 612.7C479.32 612.58 480.88 612.08 482.32 612C483.76 611.92 485.09 612.12 486.53 612.23C487.97 612.35 489.53 612.62 490.97 612.7C492.42 612.78 493.78 612.74 495.18 612.7C496.59 612.66 497.95 612.43 499.39 612.47C500.83 612.51 502.39 612.78 503.84 612.93C505.28 613.09 506.6 613.21 508.04 613.4C509.49 613.6 511.05 613.95 512.49 614.1C513.93 614.26 515.29 614.34 516.7 614.34C518.1 614.34 519.47 614.14 520.91 614.1C522.35 614.06 523.91 613.91 525.35 614.1C526.79 614.3 528.12 614.73 529.56 615.27C531 615.82 532.56 617.57 534 617.38C535.45 617.18 536.81 614.81 538.21 614.1C539.62 613.4 540.98 613.17 542.42 613.17C543.86 613.17 545.42 613.56 546.87 614.1C548.31 614.65 549.63 615.86 551.08 616.44C552.52 617.03 554.08 617.42 555.52 617.61C556.96 617.81 558.33 617.81 559.73 617.61C561.13 617.42 562.5 616.87 563.94 616.44C565.38 616.01 566.94 615.47 568.38 615.04C569.82 614.61 571.15 614.22 572.59 613.87C574.03 613.52 575.59 612.82 577.03 612.93C578.48 613.05 579.84 614.26 581.24 614.57C582.65 614.88 584.01 614.61 585.45 614.81C586.9 615 588.45 615.08 589.9 615.74C591.34 616.4 592.66 617.42 594.11 618.78C595.55 620.15 597.1 622.48 598.55 623.93C600 625.37 601.36 626.73 602.81 627.43C604.26 628.14 605.81 628.02 607.25 628.14C608.69 628.25 610.02 628.06 611.46 628.14C612.9 628.21 614.46 628.02 615.9 628.6C617.34 629.19 618.71 630.47 620.11 631.64C621.52 632.81 622.88 634.45 624.32 635.62C625.76 636.79 627.32 638.07 628.77 638.66C630.21 639.24 631.53 638.54 632.97 639.13C634.42 639.71 635.98 641.39 637.42 642.17C638.86 642.95 640.22 643.41 641.63 643.8C643.03 644.19 644.4 644.31 645.84 644.51C647.28 644.7 648.84 643.8 650.28 644.97C651.72 646.14 653.05 649.96 654.49 651.52C655.93 653.08 657.49 653.86 658.93 654.33C660.38 654.8 661.74 654.25 663.14 654.33C664.55 654.41 665.91 653.82 667.35 654.8C668.79 655.77 670.35 658.3 671.8 660.17C673.24 662.05 674.56 664.54 676.01 666.02C677.45 667.5 679.01 668.4 680.45 669.06C681.89 669.72 683.26 670.19 684.66 670C686.06 669.8 687.43 668.48 688.87 667.89C690.31 667.31 691.87 666.53 693.31 666.49C694.75 666.45 696.08 667.42 697.52 667.66C698.96 667.89 700.52 667.97 701.96 667.89C703.41 667.81 704.77 667.35 706.17 667.19C707.58 667.03 708.94 666.96 710.38 666.96C711.83 666.96 713.38 667.03 714.83 667.19C716.27 667.35 717.59 667.66 719.04 667.89C720.48 668.13 722.04 668.52 723.48 668.59C724.92 668.67 726.29 668.91 727.69 668.36C729.09 667.81 730.46 667.07 731.9 665.32C733.34 663.57 734.9 659.98 736.34 657.84C737.78 655.69 739.11 654.09 740.55 652.46C741.99 650.82 743.55 649.38 745 648.01C746.44 646.65 747.8 645.64 749.2 644.27C750.61 642.91 751.97 641.47 753.41 639.83C754.86 638.19 756.42 635.93 757.86 634.45C759.3 632.97 760.63 631.84 762.07 630.94C763.51 630.05 765.07 629.93 766.51 629.07C767.95 628.21 769.32 627.63 770.72 625.8C772.12 623.97 773.49 620.22 774.93 618.08C776.37 615.94 777.93 614.3 779.37 612.93C780.82 611.57 782.14 610.87 783.58 609.89C785.02 608.92 786.58 607.79 788.03 607.09C789.47 606.39 790.83 606.15 792.24 605.68C793.64 605.22 795.04 604.67 796.45 604.28C797.85 603.89 799.95 603.5 800.65 603.35"/>
<path fill="none" stroke="#a81f1f" stroke-width="2.0" stroke-linejoin="round" stroke-linecap="round" d="M0 614.57C1.56 614.96 6.24 616.6 9.35 616.91C12.47 617.22 15.98 616.83 18.71 616.44C21.44 616.05 23.39 615.27 25.72 614.57C28.06 613.87 30.4 613.21 32.74 612.23C35.08 611.26 37.42 609.89 39.76 608.72C42.1 607.56 44.43 606.39 46.77 605.22C49.11 604.05 51.45 602.88 53.79 601.71C56.13 600.54 58.47 599.1 60.8 598.2C63.14 597.3 65.48 596.72 67.82 596.33C70.16 595.94 72.5 595.86 74.84 595.86C77.17 595.86 79.51 596.14 81.85 596.33C84.19 596.53 86.53 596.72 88.87 597.03C91.21 597.34 93.55 597.62 95.88 598.2C98.22 598.79 100.56 599.84 102.9 600.54C105.24 601.24 107.58 602.02 109.92 602.41C112.25 602.8 114.59 602.8 116.93 602.88C119.27 602.96 121.22 603.07 123.95 602.88C126.68 602.68 130.57 602.22 133.3 601.71C136.03 601.2 137.98 600.42 140.32 599.84C142.66 599.25 145 598.86 147.33 598.2C149.67 597.54 152.01 596.56 154.35 595.86C156.69 595.16 159.03 594.58 161.37 593.99C163.7 593.41 166.04 592.74 168.38 592.35C170.72 591.96 173.06 591.65 175.4 591.65C177.74 591.65 180.46 591.85 182.41 592.35C184.36 592.86 185.53 593.72 187.09 594.69C188.65 595.67 190.21 596.84 191.77 598.2C193.33 599.57 195.07 601.83 196.45 602.88C197.82 603.93 198.63 603.15 200 604.52C201.37 605.88 203.12 609 204.68 611.06C206.24 613.13 207.8 615.16 209.35 616.91C210.91 618.66 212.47 620.15 214.03 621.59C215.59 623.03 217.15 624.39 218.71 625.56C220.27 626.73 221.83 627.78 223.39 628.6C224.95 629.42 226.11 629.97 228.06 630.47C230.01 630.98 232.74 631.29 235.08 631.64C237.42 631.99 239.76 632.42 242.1 632.58C244.43 632.73 246.77 632.85 249.11 632.58C251.45 632.31 253.79 631.6 256.13 630.94C258.47 630.28 260.8 629.46 263.14 628.6C265.48 627.75 267.82 626.58 270.16 625.8C272.5 625.02 274.84 624.74 277.17 623.93C279.51 623.11 281.85 622.06 284.19 620.89C286.53 619.72 288.87 618.24 291.21 616.91C293.55 615.58 295.88 614.22 298.22 612.93C300.56 611.65 302.9 610.36 305.24 609.19C307.58 608.02 309.92 606.85 312.25 605.92C314.59 604.98 316.93 604.2 319.27 603.58C321.61 602.96 323.95 602.53 326.29 602.18C328.62 601.83 330.96 601.63 333.3 601.48C335.64 601.32 337.98 601.2 340.32 601.24C342.66 601.28 345 601.51 347.33 601.71C349.67 601.9 352.01 602.22 354.35 602.41C356.69 602.61 359.03 602.8 361.37 602.88C363.7 602.96 366.04 602.88 368.38 602.88C370.72 602.88 373.06 602.88 375.4 602.88C377.74 602.88 380.07 602.76 382.41 602.88C384.75 603 387.09 603.39 389.43 603.58C391.77 603.77 394.68 603.74 396.45 604.05C398.21 604.36 397.46 605.06 400 605.45C402.54 605.84 407.8 606.23 411.69 606.39C415.59 606.54 419.49 606.54 423.39 606.39C427.28 606.23 430.99 605.76 435.08 605.45C439.17 605.14 444.04 604.48 447.94 604.52C451.84 604.55 455.15 605.22 458.47 605.68C461.78 606.15 464.7 606.74 467.82 607.32C470.94 607.91 474.06 608.69 477.17 609.19C480.29 609.7 483.02 610.01 486.53 610.36C490.04 610.71 494.32 610.99 498.22 611.3C502.12 611.61 506.02 611.96 509.92 612.23C513.81 612.51 518.1 612.66 521.61 612.93C525.12 613.21 528.24 613.71 530.96 613.87C533.69 614.03 535.64 613.87 537.98 613.87C540.32 613.87 542.66 613.75 545 613.87C547.33 613.99 549.28 614.3 552.01 614.57C554.74 614.84 558.25 615.39 561.37 615.51C564.48 615.62 567.6 615.43 570.72 615.27C573.84 615.12 577.35 614.69 580.07 614.57C582.8 614.45 584.75 614.38 587.09 614.57C589.43 614.77 592.16 615.23 594.11 615.74C596.06 616.25 597.8 617.22 598.78 617.61C599.77 618 598.63 617.49 600 618.08C601.37 618.66 604.68 620.22 607.02 621.12C609.35 622.02 611.69 622.72 614.03 623.46C616.37 624.2 618.71 624.63 621.05 625.56C623.39 626.5 625.72 627.86 628.06 629.07C630.4 630.28 632.74 631.6 635.08 632.81C637.42 634.02 639.56 635.15 642.1 636.32C644.63 637.49 647.55 638.5 650.28 639.83C653.01 641.15 655.54 642.83 658.47 644.27C661.39 645.71 665.09 647 667.82 648.48C670.55 649.96 672.11 651.41 674.84 653.16C677.56 654.91 681.07 657.52 684.19 659.01C687.31 660.49 690.43 661.19 693.55 662.05C696.66 662.9 699.78 663.6 702.9 664.15C706.02 664.7 709.14 664.97 712.25 665.32C715.37 665.67 718.88 666.02 721.61 666.26C724.34 666.49 726.48 666.76 728.62 666.72C730.77 666.68 732.52 666.53 734.47 666.02C736.42 665.51 738.17 664.85 740.32 663.68C742.46 662.51 745 660.64 747.33 659.01C749.67 657.37 752.01 655.69 754.35 653.86C756.69 652.03 759.03 649.88 761.37 648.01C763.7 646.14 766.04 644.51 768.38 642.64C770.72 640.76 773.06 639.01 775.4 636.79C777.74 634.57 780.07 631.64 782.41 629.3C784.75 626.97 787.09 624.82 789.43 622.76C791.77 620.69 794.57 618.27 796.45 616.91C798.32 615.55 799.95 614.96 800.65 614.57"/>
<g>
<rect x="-1" y="627.9" width="3" height="1.17" fill="#f00"/>
<rect x="3" y="627.9" width="3" height="1.87" fill="#f00"/>
<rect x="7" y="627.9" width="3" height="2.57" fill="#f00"/>
<rect x="11" y="627.9" width="3" height="1.17" fill="#f00"/>
<rect x="20" y="626.46" width="3" height="1.64" fill="#888"/>
<rect x="24" y="624.12" width="3" height="3.98" fill="#888"/>
<rect x="29" y="621.79" width="3" height="6.31" fill="#888"/>
<rect x="33" y="621.32" width="3" height="6.78" fill="#888"/>
<rect x="37" y="621.08" width="3" height="7.02" fill="#888"/>
<rect x="42" y="621.08" width="3" height="7.02" fill="#888"/>
<rect x="46" y="620.15" width="3" height="7.95" fill="#888"/>
<rect x="50" y="619.68" width="3" height="8.42" fill="#888"/>
<rect x="54" y="619.21" width="3" height="8.89" fill="#888"/>
<rect x="59" y="619.91" width="3" height="8.19" fill="#888"/>
<rect x="63" y="621.79" width="3" height="6.31" fill="#888"/>
<rect x="67" y="624.59" width="3" height="3.51" fill="#888"/>
<rect x="72" y="627.16" width="3" height="0.94" fill="#888"/>
<rect x="76" y="627.63" width="3" height="0.47" fill="#888"/>
<rect x="80" y="627.9" width="3" height="0.7" fill="#f00"/>
<rect x="85" y="627.9" width="3" height="1.4" fill="#f00"/>
<rect x="89" y="627.9" width="3" height="1.87" fill="#f00"/>
<rect x="93" y="627.9" width="3" height="3.74" fill="#f00"/>
<rect x="97" y="627.9" width="3" height="4.44" fill="#f00"/>
<rect x="102" y="627.9" width="3" height="4.44" fill="#f00"/>
<rect x="106" y="627.9" width="3" height="3.74" fill="#f00"/>
<rect x="110" y="627.9" width="3" height="3.51" fill="#f00"/>
<rect x="115" y="627.9" width="3" height="2.57" fill="#f00"/>
<rect x="119" y="627.9" width="3" height="0.47" fill="#f00"/>
<rect x="123" y="627.16" width="3" height="0.94" fill="#888"/>
<rect x="128" y="627.16" width="3" height="0.94" fill="#888"/>
<rect x="132" y="626.93" width="3" height="1.17" fill="#888"/>
<rect x="136" y="625.29" width="3" height="2.81" fill="#888"/>
<rect x="141" y="623.66" width="3" height="4.44" fill="#888"/>
<rect x="145" y="623.42" width="3" height="4.68" fill="#888"/>
<rect x="149" y="622.96" width="3" height="5.14" fill="#888"/>
<rect x="153" y="622.49" width="3" height="5.61" fill="#888"/>
<rect x="158" y="622.49" width="3" height="5.61" fill="#888"/>
<rect x="162" y="623.66" width="3" height="4.44" fill="#888"/>
<rect x="166" y="624.59" width="3" height="3.51" fill="#888"/>
<rect x="171" y="626" width="3" height="2.1" fill="#888"/>
<rect x="175" y="627.16" width="3" height="0.94" fill="#888"/>
<rect x="179" y="627.9" width="3" height="0.7" fill="#f00"/>
<rect x="184" y="627.9" width="3" height="4.91" fill="#f00"/>
<rect x="188" y="627.9" width="3" height="8.89" fill="#f00"/>
<rect x="192" y="627.9" width="3" height="12.86" fill="#f00"/>
<rect x="196" y="627.9" width="3" height="17.54" fill="#f00"/>
<rect x="201" y="627.9" width="3" height="20.58" fill="#f00"/>
<rect x="205" y="627.9" width="3" height="20.58" fill="#f00"/>
<rect x="209" y="627.9" width="3" height="19.41" fill="#f00"/>
<rect x="214" y="627.9" width="3" height="17.77" fill="#f00"/>
<rect x="218" y="627.9" width="3" height="14.73" fill="#f00"/>
<rect x="222" y="627.9" width="3" height="12.39" fill="#f00"/>
<rect x="227" y="627.9" width="3" height="5.85" fill="#f00"/>
<rect x="231" y="627.9" width="3" height="3.74" fill="#f00"/>
<rect x="235" y="627.9" width="3" height="1.87" fill="#f00"/>
<rect x="240" y="627.9" width="3" height="2.34" fill="#f00"/>
<rect x="244" y="627.9" width="3" height="3.04" fill="#f00"/>
<rect x="248" y="627.9" width="3" height="0.94" fill="#f00"/>
<rect x="252" y="626" width="3" height="2.1" fill="#888"/>
<rect x="257" y="622.25" width="3" height="5.85" fill="#888"/>
<rect x="261" y="620.62" width="3" height="7.48" fill="#888"/>
<rect x="265" y="621.32" width="3" height="6.78" fill="#888"/>
<rect x="270" y="623.42" width="3" height="4.68" fill="#888"/>
<rect x="274" y="622.96" width="3" height="5.14" fill="#888"/>
<rect x="278" y="621.79" width="3" height="6.31" fill="#888"/>
<rect x="283" y="620.62" width="3" height="7.48" fill="#888"/>
<rect x="287" y="619.45" width="3" height="8.65" fill="#888"/>
<rect x="291" y="618.75" width="3" height="9.35" fill="#888"/>
<rect x="295" y="618.28" width="3" height="9.82" fill="#888"/>
<rect x="300" y="618.28" width="3" height="9.82" fill="#888"/>
<rect x="304" y="618.28" width="3" height="9.82" fill="#888"/>
<rect x="308" y="619.45" width="3" height="8.65" fill="#888"/>
<rect x="313" y="621.32" width="3" height="6.78" fill="#888"/>
<rect x="317" y="622.25" width="3" height="5.85" fill="#888"/>
<rect x="321" y="623.66" width="3" height="4.44" fill="#888"/>
<rect x="326" y="626.23" width="3" height="1.87" fill="#888"/>
<rect x="330" y="626.93" width="3" height="1.17" fill="#888"/>
<rect x="334" y="627.16" width="3" height="0.94" fill="#888"/>
<rect x="338" y="627.16" width="3" height="0.94" fill="#888"/>
<rect x="347" y="627.9" width="3" height="0.7" fill="#f00"/>
<rect x="351" y="627.9" width="3" height="1.87" fill="#f00"/>
<rect x="356" y="627.9" width="3" height="2.1" fill="#f00"/>
<rect x="360" y="627.9" width="3" height="1.64" fill="#f00"/>
<rect x="369" y="627.4" width="3" height="0.7" fill="#888"/>
<rect x="373" y="627.4" width="3" height="0.7" fill="#888"/>
<rect x="377" y="627.4" width="3" height="0.7" fill="#888"/>
<rect x="382" y="627.9" width="3" height="0.7" fill="#f00"/>
<rect x="386" y="627.9" width="3" height="1.17" fill="#f00"/>
<rect x="390" y="627.9" width="3" height="1.4" fill="#f00"/>
<rect x="394" y="627.9" width="3" height="1.4" fill="#f00"/>
<rect x="399" y="627.9" width="3" height="1.4" fill="#f00"/>
<rect x="403" y="627.9" width="3" height="1.17" fill="#f00"/>
<rect x="407" y="627.9" width="3" height="0.94" fill="#f00"/>
<rect x="412" y="627.9" width="3" height="0.7" fill="#f00"/>
<rect x="416" y="627.9" width="3" height="1.64" fill="#f00"/>
<rect x="420" y="627.9" width="3" height="1.17" fill="#f00"/>
<rect x="425" y="627.9" width="3" height="0.47" fill="#f00"/>
<rect x="429" y="627.63" width="3" height="0.47" fill="#888"/>
<rect x="433" y="626.93" width="3" height="1.17" fill="#888"/>
<rect x="437" y="627.16" width="3" height="0.94" fill="#888"/>
<rect x="442" y="627.16" width="3" height="0.94" fill="#888"/>
<rect x="446" y="626.93" width="3" height="1.17" fill="#888"/>
<rect x="455" y="627.9" width="3" height="1.17" fill="#f00"/>
<rect x="459" y="627.9" width="3" height="2.57" fill="#f00"/>
<rect x="463" y="627.9" width="3" height="2.81" fill="#f00"/>
<rect x="468" y="627.9" width="3" height="3.74" fill="#f00"/>
<rect x="472" y="627.9" width="3" height="3.98" fill="#f00"/>
<rect x="476" y="627.9" width="3" height="3.51" fill="#f00"/>
<rect x="481" y="627.9" width="3" height="2.34" fill="#f00"/>
<rect x="485" y="627.9" width="3" height="2.1" fill="#f00"/>
<rect x="489" y="627.9" width="3" height="1.87" fill="#f00"/>
<rect x="493" y="627.9" width="3" height="1.4" fill="#f00"/>
<rect x="498" y="627.9" width="3" height="1.17" fill="#f00"/>
<rect x="502" y="627.9" width="3" height="1.17" fill="#f00"/>
<rect x="506" y="627.9" width="3" height="1.17" fill="#f00"/>
<rect x="511" y="627.9" width="3" height="1.4" fill="#f00"/>
<rect x="515" y="627.9" width="3" height="1.4" fill="#f00"/>
<rect x="519" y="627.9" width="3" height="0.94" fill="#f00"/>
<rect x="524" y="627.9" width="3" height="0.7" fill="#f00"/>
<rect x="528" y="627.9" width="3" height="1.64" fill="#f00"/>
<rect x="532" y="627.9" width="3" height="3.04" fill="#f00"/>
<rect x="541" y="627.63" width="3" height="0.47" fill="#888"/>
<rect x="545" y="627.9" width="3" height="0.47" fill="#f00"/>
<rect x="549" y="627.9" width="3" height="1.87" fill="#f00"/>
<rect x="554" y="627.9" width="3" height="2.34" fill="#f00"/>
<rect x="558" y="627.9" width="3" height="1.87" fill="#f00"/>
<rect x="562" y="627.9" width="3" height="0.94" fill="#f00"/>
<rect x="571" y="627.16" width="3" height="0.94" fill="#888"/>
<rect x="575" y="626.7" width="3" height="1.4" fill="#888"/>
<rect x="588" y="627.9" width="3" height="0.7" fill="#f00"/>
<rect x="592" y="627.9" width="3" height="2.81" fill="#f00"/>
<rect x="597" y="627.9" width="3" height="6.31" fill="#f00"/>
<rect x="601" y="627.9" width="3" height="8.19" fill="#f00"/>
<rect x="605" y="627.9" width="3" height="7.02" fill="#f00"/>
<rect x="610" y="627.9" width="3" height="5.85" fill="#f00"/>
<rect x="614" y="627.9" width="3" height="5.14" fill="#f00"/>
<rect x="618" y="627.9" width="3" height="6.08" fill="#f00"/>
<rect x="623" y="627.9" width="3" height="8.19" fill="#f00"/>
<rect x="627" y="627.9" width="3" height="9.35" fill="#f00"/>
<rect x="631" y="627.9" width="3" height="7.72" fill="#f00"/>
<rect x="635" y="627.9" width="3" height="8.89" fill="#f00"/>
<rect x="640" y="627.9" width="3" height="8.19" fill="#f00"/>
<rect x="644" y="627.9" width="3" height="6.55" fill="#f00"/>
<rect x="648" y="627.9" width="3" height="5.14" fill="#f00"/>
<rect x="653" y="627.9" width="3" height="10.06" fill="#f00"/>
<rect x="657" y="627.9" width="3" height="10.29" fill="#f00"/>
<rect x="661" y="627.9" width="3" height="8.19" fill="#f00"/>
<rect x="666" y="627.9" width="3" height="7.02" fill="#f00"/>
<rect x="670" y="627.9" width="3" height="9.35" fill="#f00"/>
<rect x="674" y="627.9" width="3" height="12.16" fill="#f00"/>
<rect x="678" y="627.9" width="3" height="11.69" fill="#f00"/>
<rect x="683" y="627.9" width="3" height="9.82" fill="#f00"/>
<rect x="687" y="627.9" width="3" height="6.55" fill="#f00"/>
<rect x="691" y="627.9" width="3" height="4.68" fill="#f00"/>
<rect x="696" y="627.9" width="3" height="4.68" fill="#f00"/>
<rect x="700" y="627.9" width="3" height="3.51" fill="#f00"/>
<rect x="704" y="627.9" width="3" height="2.57" fill="#f00"/>
<rect x="709" y="627.9" width="3" height="1.87" fill="#f00"/>
<rect x="713" y="627.9" width="3" height="1.87" fill="#f00"/>
<rect x="717" y="627.9" width="3" height="1.87" fill="#f00"/>
<rect x="722" y="627.9" width="3" height="2.1" fill="#f00"/>
<rect x="726" y="627.9" width="3" height="1.87" fill="#f00"/>
<rect x="730" y="627.4" width="3" height="0.7" fill="#888"/>
<rect x="734" y="624.59" width="3" height="3.51" fill="#888"/>
<rect x="739" y="619.91" width="3" height="8.19" fill="#888"/>
<rect x="743" y="617.58" width="3" height="10.52" fill="#888"/>
<rect x="747" y="616.87" width="3" height="11.23" fill="#888"/>
<rect x="752" y="615.94" width="3" height="12.16" fill="#888"/>
<rect x="756" y="614.07" width="3" height="14.03" fill="#888"/>
<rect x="760" y="614.07" width="3" height="14.03" fill="#888"/>
<rect x="765" y="615.24" width="3" height="12.86" fill="#888"/>
<rect x="769" y="615.24" width="3" height="12.86" fill="#888"/>
<rect x="773" y="613.6" width="3" height="14.5" fill="#888"/>
<rect x="777" y="612.2" width="3" height="15.9" fill="#888"/>
<rect x="782" y="611.73" width="3" height="16.37" fill="#888"/>
<rect x="786" y="612.43" width="3" height="15.67" fill="#888"/>
<rect x="790" y="614.07" width="3" height="14.03" fill="#888"/>
<rect x="795" y="615.24" width="3" height="12.86" fill="#888"/>
<rect x="799" y="617.11" width="3" height="10.99" fill="#888"/>
</g>
<rect x="400" y="497" width="20" height="1" fill="#6a6666"/>
<rect x="400" y="499" width="20" height="1" fill="#6a6666"/>
<rect x="400" y="501" width="20" height="1" fill="#6a6666"/>
<rect x="400" y="581" width="20" height="1" fill="#6a6666"/>
<rect x="400" y="583" width="20" height="1" fill="#6a6666"/>
<rect x="400" y="585" width="20" height="1" fill="#6a6666"/>
<g font-size="10.9" fill="#5c5c5c" stroke="#5c5c5c" stroke-width="0.2">
<text x="829.2" y="23">154.0000</text>
<text x="829.2" y="64">152.0000</text>
<text x="829.2" y="105">150.0000</text>
<text x="829.2" y="146">148.0000</text>
<text x="829.2" y="187">146.0000</text>
<text x="829.2" y="228">144.0000</text>
<text x="829.2" y="268">142.0000</text>
<text x="829.2" y="309">140.0000</text>
<text x="829.2" y="350">138.0000</text>
<text x="829.2" y="391">136.0000</text>
<text x="829.2" y="432">134.0000</text>
<text x="829.2" y="473">132.0000</text>
<text x="829.2" y="545">50.0000</text>
<text x="829.2" y="581">0.0000</text>
<text x="829.2" y="608">1.0000</text>
<text x="829.2" y="632">0.0000</text>
<text x="829.2" y="656">-1.0000</text>
</g>
<g font-size="11" fill="#7c7c7c" stroke="#7c7c7c" stroke-width="0.25" text-anchor="middle">
<text x="71.5" y="688">Jun</text>
<text x="165.3" y="688">Jul</text>
<text x="257.7" y="688">Aug</text>
<text x="356.5" y="688">Sep</text>
<text x="446" y="688">Oct</text>
<text x="541.6" y="688">Nov</text>
<text x="636.2" y="688">Dec</text>
</g>
<text x="727.6" y="688" font-size="11" font-weight="bold" fill="#666" text-anchor="middle">2024</text>
<path d="M824.5 135.3 L831.5 128 L879 128 L879 142.7 L831.5 142.7 Z" fill="#2d4a76"/>
<text x="829.7" y="139.5" font-size="11" font-weight="bold" fill="#fff">148.3210</text>
<rect x="4.5" y="4.5" width="78" height="23" fill="none" stroke="#fff" stroke-width="1" opacity="0.75"/><rect x="5" y="5" width="77" height="22" fill="#000" fill-opacity="0.6"/><rect x="5" y="5" width="3" height="22" fill="#2e8b74"/><text x="17" y="21" font-size="11" font-weight="bold" fill="#f4f4f4">USD/JPY</text>
<rect x="4.5" y="31.5" width="92" height="23" fill="none" stroke="#fff" stroke-width="1" opacity="0.75"/><rect x="5" y="32" width="91" height="22" fill="#000" fill-opacity="0.6"/><rect x="5" y="32" width="3" height="22" fill="#1020f0"/><text x="17" y="48" font-size="11" font-weight="bold" fill="#f4f4f4">SMA (200,0)</text>
<rect x="4.5" y="58.5" width="86" height="23" fill="none" stroke="#fff" stroke-width="1" opacity="0.75"/><rect x="5" y="59" width="85" height="22" fill="#000" fill-opacity="0.6"/><rect x="5" y="59" width="3" height="22" fill="#e0601a"/><text x="17" y="75" font-size="11" font-weight="bold" fill="#f4f4f4">SMA (50,0)</text>
<rect x="4.5" y="507.5" width="112" height="23" fill="none" stroke="#fff" stroke-width="1" opacity="0.75"/><rect x="5" y="508" width="111" height="22" fill="#000" fill-opacity="0.6"/><rect x="5" y="508" width="3" height="22" fill="#000"/><text x="17" y="524" font-size="11" font-weight="bold" fill="#f4f4f4">RSI (14,70,30,1)</text>
<rect x="4.5" y="591.5" width="112" height="23" fill="none" stroke="#fff" stroke-width="1" opacity="0.75"/><rect x="5" y="592" width="111" height="22" fill="#000" fill-opacity="0.6"/><rect x="5" y="592" width="3" height="22" fill="#1030f0"/><text x="17" y="608" font-size="11" font-weight="bold" fill="#f4f4f4">MACD (12,26,9)</text>
</svg></body></html>
